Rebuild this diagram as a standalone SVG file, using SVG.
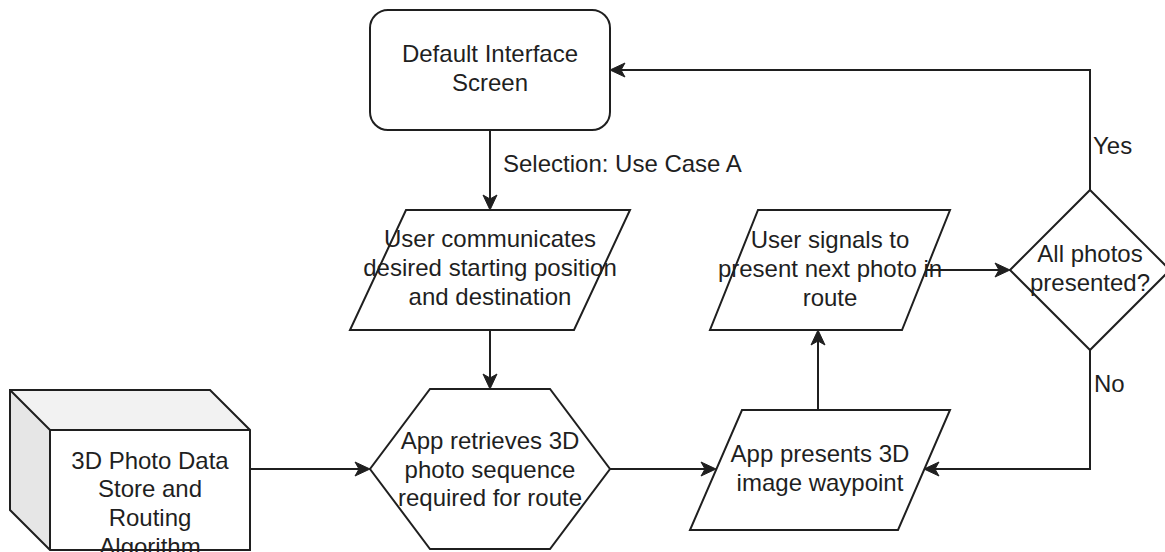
<svg xmlns="http://www.w3.org/2000/svg" width="1165" height="552" viewBox="0 0 1165 552">
  <style>
    .shape { fill: #ffffff; stroke: #1f1f1f; stroke-width: 2; stroke-linejoin: miter; }
    .edge { fill: none; stroke: #1f1f1f; stroke-width: 2; }
    text { font-family: "Liberation Sans", Arial, sans-serif; font-size: 24px; fill: #1f1f1f; }
    .c { text-anchor: middle; }
  </style>
  <defs>
    <!-- classic filled arrowhead, tip placed 10px beyond the path end -->
    <marker id="arrow" markerUnits="userSpaceOnUse" viewBox="-16 -8 17 16" refX="-10" refY="0" markerWidth="17" markerHeight="16" orient="auto">
      <path d="M 0 0 L -15 -7 L -11 0 L -15 7 Z" fill="#1f1f1f" stroke="#1f1f1f" stroke-width="1" stroke-linejoin="miter"/>
    </marker>
  </defs>

  <rect width="1165" height="552" fill="#ffffff"/>

  <!-- connectors -->
  <g id="connectors">
    <path class="edge" d="M 490 130 L 490 200" marker-end="url(#arrow)"/>
    <path class="edge" d="M 490 330 L 490 379" marker-end="url(#arrow)"/>
    <path class="edge" d="M 250 469 L 360 469" marker-end="url(#arrow)"/>
    <path class="edge" d="M 610 469 L 706 469" marker-end="url(#arrow)"/>
    <path class="edge" d="M 818 410 L 818 340" marker-end="url(#arrow)"/>
    <path class="edge" d="M 926 270 L 1000 270" marker-end="url(#arrow)"/>
    <path class="edge" d="M 1090 350 L 1090 469 L 934 469" marker-end="url(#arrow)"/>
    <path class="edge" d="M 1090 190 L 1090 70 L 620 70" marker-end="url(#arrow)"/>
    <text x="503" y="172">Selection: Use Case A</text>
    <text x="1093" y="154">Yes</text>
    <text x="1094" y="392">No</text>
  </g>

  <!-- start screen -->
  <g id="default-screen">
    <rect class="shape" x="370" y="10" width="240" height="120" rx="18" ry="18"/>
    <text class="c" x="490" y="62">Default Interface</text>
    <text class="c" x="490" y="91">Screen</text>
  </g>

  <g id="user-input">
    <polygon class="shape" points="406,210 630,210 574,330 350,330"/>
    <text class="c" x="490" y="247">User communicates</text>
    <text class="c" x="490" y="276">desired starting position</text>
    <text class="c" x="490" y="305">and destination</text>
  </g>

  <g id="retrieve-sequence">
    <polygon class="shape" points="430,389 550,389 610,469 550,549 430,549 370,469"/>
    <text class="c" x="490" y="449">App retrieves 3D</text>
    <text class="c" x="490" y="478">photo sequence</text>
    <text class="c" x="490" y="506">required for route</text>
  </g>

  <!-- data store drawn as a cube -->
  <g id="data-store">
    <polygon points="10,390 210,390 250,430 50,430" fill="#f2f2f2" stroke="none"/>
    <polygon points="10,390 50,430 50,550 10,510" fill="#e6e6e6" stroke="none"/>
    <rect x="50" y="430" width="200" height="120" fill="#ffffff" stroke="none"/>
    <path class="edge" d="M 10 390 L 210 390 L 250 430 L 250 550 L 50 550 L 10 510 Z"/>
    <path class="edge" d="M 10 390 L 50 430 L 250 430 M 50 430 L 50 550"/>
    <text class="c" x="150" y="469">3D Photo Data</text>
    <text class="c" x="150" y="497">Store and</text>
    <text class="c" x="150" y="526">Routing</text>
    <text class="c" x="150" y="555">Algorithm</text>
  </g>

  <g id="present-waypoint">
    <polygon class="shape" points="742,410 950,410 898,530 690,530"/>
    <text class="c" x="820" y="462">App presents 3D</text>
    <text class="c" x="820" y="491">image waypoint</text>
  </g>

  <g id="user-signal">
    <polygon class="shape" points="758,210 950,210 902,330 710,330"/>
    <text class="c" x="830" y="248">User signals to</text>
    <text class="c" x="830" y="277">present next photo in</text>
    <text class="c" x="830" y="306">route</text>
  </g>

  <g id="all-presented">
    <polygon class="shape" points="1090,190 1170,270 1090,350 1010,270"/>
    <text class="c" x="1090" y="262">All photos</text>
    <text class="c" x="1090" y="291">presented?</text>
  </g>
</svg>
